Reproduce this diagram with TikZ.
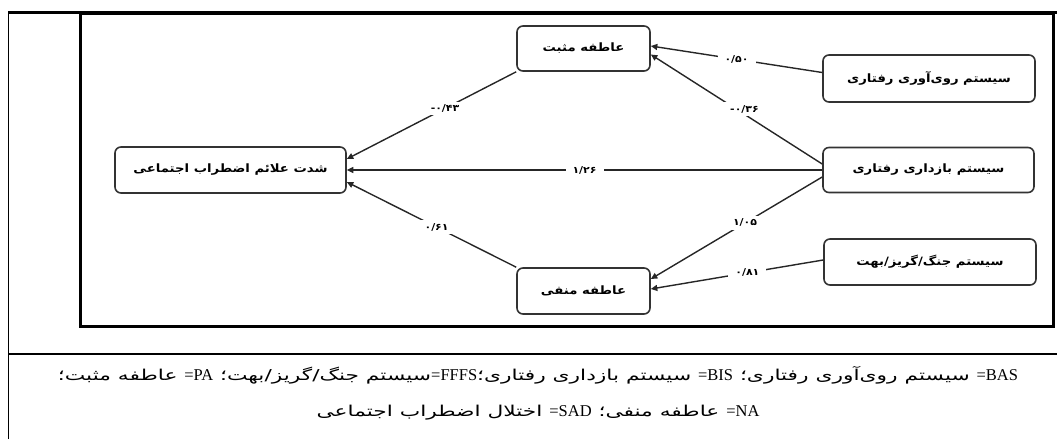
\documentclass[tikz,border=0pt]{standalone}
\usepackage{fontspec}
\setmainfont{Liberation Serif}
\newfontfamily\arabicfont[Script=Arabic]{DejaVu Sans}
\newfontfamily\boxfont[Script=Arabic,FakeStretch=1.15]{DejaVu Sans}
\newfontfamily\capfont[Script=Arabic,FakeStretch=1.45]{DejaVu Sans}
\TeXXeTstate=1
\usetikzlibrary{arrows.meta}
\newcommand\LT[1]{\beginL{\rmfamily\fontsize{16.5}{19}\selectfont #1}\endL}
\newcommand\EQ{{\rmfamily\fontsize{16.5}{19}\selectfont=}}
\newcommand\NEG[1]{\hbox{-}\hbox{#1}}
\tikzset{
  boxnode/.style={draw=black!80, line width=1.6pt, rounded corners=6pt, fill=white,
    font=\boxfont\bfseries\fontsize{11.5}{13}\selectfont, inner sep=2pt},
  conn/.style={line width=1.4pt, draw=black!85, -{Triangle[length=6.5pt,width=6pt]}},
  lab/.style={fill=white, font=\boxfont\bfseries\fontsize{9.5}{11}\selectfont, inner xsep=7pt, inner ysep=3pt},
  capline/.style={font=\capfont\fontsize{15}{18}\selectfont, inner sep=0pt}
}
\begin{document}
\begin{tikzpicture}[x=1pt,y=-1pt]
\useasboundingbox (0,0) rectangle (1057,439);
% table frame
\draw[line width=0.9pt] (8,439) -- (8,11);
\draw[line width=3pt] (8,12.5) -- (1057,12.5);
\draw[line width=1.6pt] (8,354) -- (1057,354);
% inner figure frame
\draw[line width=3pt] (80,13) rectangle (1053,326);
% nodes
\node[boxnode, minimum width=133pt, minimum height=45pt] (PA) at (583.5,48.5) {\beginR عاطفه مثبت\endR};
\node[boxnode, minimum width=133pt, minimum height=46pt] (NA) at (583.5,291) {\beginR عاطفه منفی\endR};
\node[boxnode, minimum width=231pt, minimum height=46pt] (SAD) at (230.5,170) {\beginR شدت علائم اضطراب اجتماعی\endR};
\node[boxnode, minimum width=212pt, minimum height=47pt] (BAS) at (929,78.5) {\beginR سیستم روی‌آوری رفتاری\endR};
\node[boxnode, minimum width=211pt, minimum height=45pt] (BIS) at (928.5,170) {\beginR سیستم بازداری رفتاری\endR};
\node[boxnode, minimum width=212pt, minimum height=46pt] (FFFS) at (930,262) {\beginR سیستم جنگ/گریز/بهت\endR};
% connectors
\draw[conn] ([yshift=6pt]BAS.west) -- node[lab, pos=0.5]{۰/۵۰} ([yshift=2.5pt]PA.east);
\draw[conn] ([yshift=6pt]BIS.west) -- node[lab, pos=0.5, xshift=8pt]{\NEG{۰/۳۶}} ([yshift=-6pt]PA.east);
\draw[conn] (BIS.west) -- node[lab]{۱/۲۶} (SAD.east);
\draw[conn] ([yshift=-7pt]BIS.west) -- node[lab, pos=0.45]{۱/۰۵} ([yshift=12pt]NA.east);
\draw[conn] ([yshift=2pt]FFFS.west) -- node[lab, pos=0.44]{۰/۸۱} ([yshift=2pt]NA.east);
\draw[conn] (PA.south west) -- node[lab, pos=0.42]{\NEG{۰/۴۳}} ([yshift=11pt]SAD.east);
\draw[conn] (NA.north west) -- node[lab, pos=0.47]{۰/۶۱} ([yshift=-12pt]SAD.east);
% caption
\node[capline] (cap1) at (538,375) {\beginR\LT{BAS}\EQ\ سیستم روی‌آوری رفتاری؛ \LT{BIS}\EQ\ سیستم بازداری رفتاری؛\LT{FFFS}\EQ سیستم جنگ/گریز/بهت؛ \LT{PA}\EQ\ عاطفه مثبت؛\endR};
\node[capline] (cap2) at (538,413) {\beginR\LT{NA}\EQ\ عاطفه منفی؛ \LT{SAD}\EQ\ اختلال اضطراب اجتماعی\endR};
\end{tikzpicture}
\end{document}
